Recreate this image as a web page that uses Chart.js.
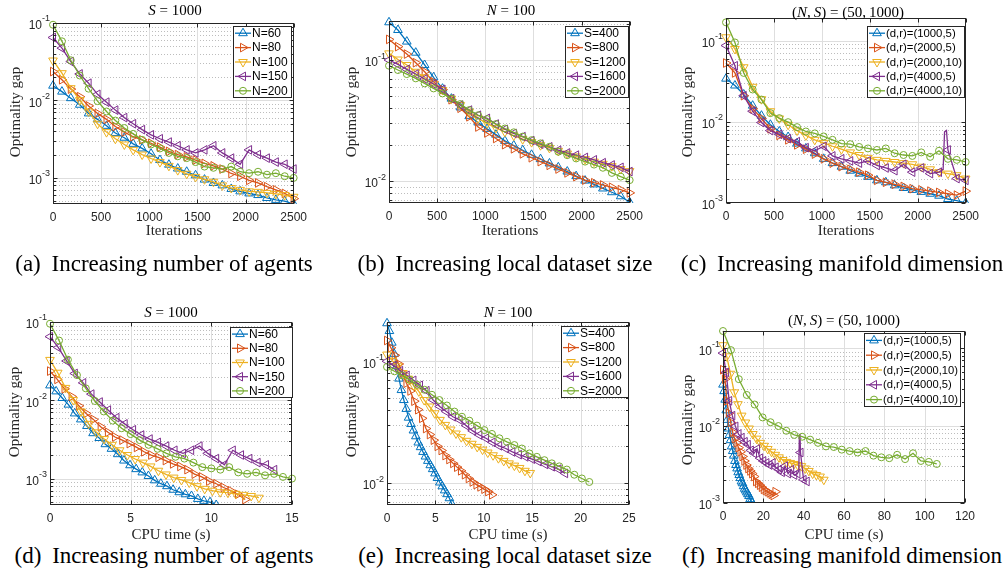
<!DOCTYPE html>
<html><head><meta charset="utf-8">
<script src="https://cdn.jsdelivr.net/npm/chart.js@4.4.1/dist/chart.umd.min.js"></script>
<style>
html,body{margin:0;padding:0;background:#fff}
body{width:1008px;height:577px;position:relative;overflow:hidden;font-family:'Liberation Serif','Times New Roman',serif;color:#000}
canvas{position:absolute}
.lbl{position:absolute;white-space:nowrap;transform:translate(-50%,-50%);line-height:1}
.ttl{font-size:15px;color:#000}
.ax{font-size:15px;color:#262626}
.rot{transform:translate(-50%,-50%) rotate(-90deg)}
.cap{font-size:23px;color:#000}
</style></head><body>
<script>
// ---------- data ----------
const iterMarks = [0,93,185,278,370,463,556,648,741,833,926,1019,1111,1204,1296,1389,1481,1574,1667,1759,1852,1944,2037,2130,2222,2315,2407,2500];

// (a)/(d): S = 1000, varying N
const a60  = [0.0155,0.013,0.0107,0.0088,0.0068,0.0057,0.0047,0.0038,0.0033,0.00275,0.0024,0.00205,0.0017,0.00148,0.00132,0.0012,0.00108,0.00095,0.00086,0.0008,0.00072,0.00067,0.00063,0.0006,0.00055,0.00052,0.0005,0.00046];
const a80  = [0.0236,0.0185,0.014,0.0112,0.0085,0.0068,0.0057,0.0046,0.0039,0.0034,0.0031,0.0028,0.0025,0.0022,0.002,0.00187,0.0017,0.00154,0.00143,0.0013,0.00114,0.00105,0.00093,0.00086,0.00077,0.0007,0.00063,0.00054];
const a100 = [0.0328,0.0225,0.0144,0.0101,0.0072,0.005,0.0039,0.0032,0.0027,0.0023,0.002,0.00178,0.0016,0.00143,0.00126,0.00113,0.00103,0.00096,0.00089,0.0008,0.00074,0.0007,0.00067,0.00066,0.00064,0.00062,0.0006,0.00057];
const a150 = [0.065,0.0474,0.0318,0.022,0.0167,0.012,0.0095,0.0075,0.006,0.005,0.0042,0.0036,0.0032,0.0029,0.0026,0.0023,0.0021,0.0023,0.0026,0.0021,0.0018,0.0015,0.0023,0.002,0.0018,0.0016,0.0015,0.0013];
const a200 = [0.095,0.058,0.033,0.021,0.0142,0.0098,0.0072,0.0055,0.0044,0.0037,0.0031,0.0027,0.0024,0.0021,0.0019,0.0018,0.0016,0.0014,0.00135,0.0013,0.0014,0.0012,0.00115,0.0012,0.0011,0.00115,0.00105,0.001];

// (b)/(e): N = 100, varying S
const b400  = [0.205,0.177,0.142,0.115,0.091,0.072,0.058,0.048,0.0406,0.0344,0.0305,0.027,0.0242,0.0215,0.0197,0.018,0.0165,0.0152,0.014,0.013,0.012,0.011,0.0101,0.0094,0.0087,0.0081,0.0075,0.0067];
const b800  = [0.148,0.129,0.112,0.095,0.08,0.066,0.057,0.047,0.04,0.034,0.028,0.025,0.0225,0.02,0.0185,0.0168,0.0156,0.0145,0.0135,0.0126,0.0117,0.0109,0.0102,0.0097,0.0093,0.0089,0.0085,0.008];
const b1200 = [0.1135,0.101,0.091,0.08,0.072,0.0634,0.0565,0.048,0.0425,0.0374,0.033,0.03,0.0275,0.0255,0.0238,0.0222,0.021,0.0198,0.0188,0.0178,0.0169,0.016,0.0152,0.0145,0.0139,0.0133,0.0126,0.0121];
const b1600 = [0.1,0.092,0.0837,0.0766,0.0697,0.0634,0.0573,0.048,0.0425,0.0386,0.035,0.033,0.0296,0.0268,0.0248,0.0233,0.0216,0.0202,0.0192,0.018,0.0171,0.0164,0.0157,0.015,0.0142,0.0136,0.013,0.012];
const b2000 = [0.0898,0.0827,0.0766,0.0706,0.0642,0.0583,0.053,0.048,0.0433,0.0386,0.035,0.0325,0.0296,0.0272,0.0253,0.0233,0.0218,0.0205,0.0192,0.0175,0.0164,0.0154,0.0145,0.0137,0.0129,0.0117,0.0109,0.0102];

// (c)/(f): (N,S) = (50,1000), varying (d,r)
const c1000_5  = [0.034,0.028,0.0217,0.0158,0.0119,0.0092,0.0076,0.0065,0.0054,0.0047,0.0041,0.0035,0.0031,0.0028,0.0025,0.0023,0.0021,0.0019,0.0018,0.00165,0.00153,0.00145,0.00137,0.0013,0.00123,0.00112,0.00107,0.001];
const c2000_5  = [0.053,0.04,0.021,0.0145,0.011,0.0082,0.0068,0.006,0.0052,0.0046,0.004,0.0035,0.0031,0.0028,0.0026,0.0024,0.0022,0.0019,0.0018,0.0017,0.0016,0.0015,0.00145,0.0014,0.00135,0.0013,0.00125,0.0014];
const c2000_10 = [0.11,0.079,0.047,0.027,0.019,0.0135,0.011,0.0092,0.0078,0.0068,0.006,0.0055,0.005,0.0046,0.0042,0.0039,0.0036,0.0034,0.0033,0.0032,0.0031,0.003,0.0028,0.0026,0.0024,0.0023,0.0022,0.002];
const c4000_5  = [0.087,0.049,0.021,0.0135,0.0098,0.0078,0.007,0.0062,0.0057,0.0048,0.0044,0.005,0.0038,0.0035,0.0033,0.0031,0.0033,0.0029,0.0027,0.0025,0.003,0.0024,0.0027,0.0023,0.0024,0.0045,0.002,0.0019];
const c4000_10 = [0.168,0.095,0.04,0.025,0.0188,0.0128,0.0111,0.0099,0.0086,0.0076,0.0072,0.0066,0.006,0.0054,0.0053,0.0049,0.0047,0.0045,0.0047,0.0041,0.0039,0.0038,0.0042,0.0037,0.0044,0.0035,0.0034,0.0032];
// spike of the (4000,5) run between markers (line only)
const spikeIter = [2265,2280,2300];
const spikeSec  = [37.6,37.85,38.18];
const spikeVal  = [0.0026,0.0075,0.0078];

// CPU time (s) at the marker iterations
const tN60  = [0,0.38,0.76,1.14,1.53,1.91,2.29,2.67,3.05,3.43,3.81,4.20,4.58,4.96,5.34,5.72,6.10,6.49,6.87,7.25,7.63,8.01,8.39,8.77,9.16,9.54,9.92,10.3];
const tN80  = [0,0.45,0.90,1.34,1.79,2.24,2.69,3.14,3.59,4.03,4.48,4.93,5.38,5.83,6.27,6.72,7.17,7.62,8.07,8.51,8.96,9.41,9.86,10.31,10.76,11.20,11.65,12.1];
const tN100 = [0,0.48,0.96,1.44,1.92,2.40,2.88,3.36,3.84,4.32,4.80,5.28,5.76,6.24,6.72,7.19,7.67,8.15,8.63,9.11,9.59,10.07,10.55,11.03,11.51,11.99,12.47,12.95];
const tN150 = [0,0.51,1.03,1.54,2.06,2.57,3.09,3.60,4.12,4.63,5.15,5.66,6.18,6.69,7.21,7.72,8.24,8.75,9.27,9.78,10.30,10.81,11.33,11.84,12.36,12.87,13.39,13.9];
const tN200 = [0,0.56,1.11,1.67,2.22,2.78,3.33,3.89,4.44,5.00,5.56,6.11,6.67,7.22,7.78,8.33,8.89,9.44,10.00,10.56,11.11,11.67,12.22,12.78,13.33,13.89,14.44,15];
const tS400  = [0,0.25,0.50,0.74,0.99,1.24,1.49,1.74,1.99,2.23,2.48,2.73,2.98,3.23,3.47,3.72,3.97,4.22,4.47,4.72,4.96,5.21,5.46,5.71,5.96,6.20,6.45,6.7];
const tS800  = [0,0.40,0.80,1.21,1.61,2.01,2.41,2.81,3.21,3.62,4.02,4.42,4.82,5.22,5.63,6.03,6.43,6.83,7.23,7.64,8.04,8.44,8.84,9.24,9.64,10.05,10.45,10.85];
const tS1200 = [0,0.55,1.10,1.64,2.19,2.74,3.29,3.84,4.39,4.93,5.48,6.03,6.58,7.13,7.67,8.22,8.77,9.32,9.87,10.41,10.96,11.51,12.06,12.61,13.16,13.70,14.25,14.8];
const tS1600 = [0,0.68,1.36,2.04,2.73,3.41,4.09,4.77,5.45,6.13,6.81,7.50,8.18,8.86,9.54,10.22,10.90,11.59,12.27,12.95,13.63,14.31,14.99,15.67,16.36,17.04,17.72,18.4];
const tS2000 = [0,0.77,1.55,2.32,3.10,3.87,4.64,5.42,6.19,6.97,7.74,8.51,9.29,10.06,10.84,11.61,12.39,13.16,13.93,14.71,15.48,16.26,17.03,17.80,18.58,19.35,20.13,20.9];
const tD1000_5  = [0,0.54,1.07,1.61,2.15,2.69,3.22,3.76,4.30,4.83,5.37,5.91,6.44,6.98,7.52,8.06,8.59,9.13,9.67,10.20,10.74,11.28,11.81,12.35,12.89,13.43,13.96,14.5];
const tD2000_5  = [0,0.96,1.93,2.89,3.85,4.81,5.78,6.74,7.70,8.67,9.63,10.59,11.56,12.52,13.48,14.44,15.41,16.37,17.33,18.30,19.26,20.22,21.19,22.15,23.11,24.07,25.04,26];
const tD2000_10 = [0,1.85,3.70,5.56,7.41,9.26,11.11,12.96,14.81,16.67,18.52,20.37,22.22,24.07,25.93,27.78,29.63,31.48,33.33,35.19,37.04,38.89,40.74,42.59,44.44,46.30,48.15,50];
const tD4000_5  = [0,1.54,3.07,4.61,6.15,7.69,9.22,10.76,12.30,13.83,15.37,16.91,18.44,19.98,21.52,23.06,24.59,26.13,27.67,29.20,30.74,32.28,33.81,35.35,36.89,38.43,39.96,41.5];
const tD4000_10 = [0,3.93,7.85,11.78,15.70,19.63,23.56,27.48,31.41,35.33,39.26,43.19,47.11,51.04,54.96,58.89,62.81,66.74,70.67,74.59,78.52,82.44,86.37,90.30,94.22,98.15,102.07,106];

const labelsN  = ['N=60','N=80','N=100','N=150','N=200'];
const labelsS  = ['S=400','S=800','S=1200','S=1600','S=2000'];
const labelsDR = ['(d,r)=(1000,5)','(d,r)=(2000,5)','(d,r)=(2000,10)','(d,r)=(4000,5)','(d,r)=(4000,10)'];

const xTicksIter = [0,500,1000,1500,2000,2500];
const xTicksD = [0,5,10,15];
const xTicksE = [0,5,10,15,20,25];
const xTicksF = [0,20,40,60,80,100,120];

// ---------- styles ----------
const COLORS = ['#0072BD','#D95319','#EDB120','#7E2F8E','#77AC30'];
const MARKERS = [
  {s:'triangle', r:0,   rad:5},
  {s:'triangle', r:90,  rad:5},
  {s:'triangle', r:180, rad:5},
  {s:'triangle', r:270, rad:5},
  {s:'circle',   r:0,   rad:3.5}
];

const panels = [
  {rect:[53,23,295,204],  xmax:2500, xticks:xTicksIter, ymin:4.6e-4, ymax:0.1,   legend:[233,26,292,98],  labels:labelsN,
   xs:[iterMarks,iterMarks,iterMarks,iterMarks,iterMarks], ys:[a60,a80,a100,a150,a200]},
  {rect:[389,21,631,203], xmax:2500, xticks:xTicksIter, ymin:6.6e-3, ymax:0.21,  legend:[565,26,629,98],  labels:labelsS,
   xs:[iterMarks,iterMarks,iterMarks,iterMarks,iterMarks], ys:[b400,b800,b1200,b1600,b2000]},
  {rect:[726,18,967,203], xmax:2500, xticks:xTicksIter, ymin:1e-3,   ymax:0.19,  legend:[867,26,965,98],  labels:labelsDR,
   xs:[iterMarks,iterMarks,iterMarks,iterMarks,iterMarks], ys:[c1000_5,c2000_5,c2000_10,c4000_5,c4000_10],
   extra:{series:3, x:spikeIter, y:spikeVal}},
  {rect:[50,322,292,505], xmax:15,  xticks:xTicksD, ymin:4.6e-4, ymax:0.1,   legend:[230,327,293,398], labels:labelsN,
   xs:[tN60,tN80,tN100,tN150,tN200], ys:[a60,a80,a100,a150,a200]},
  {rect:[387,322,629,505], xmax:25, xticks:xTicksE, ymin:6.6e-3, ymax:0.21,  legend:[561,326,629,398], labels:labelsS,
   xs:[tS400,tS800,tS1200,tS1600,tS2000], ys:[b400,b800,b1200,b1600,b2000]},
  {rect:[723,331,965,503], xmax:120, xticks:xTicksF, ymin:1e-3,  ymax:0.168, legend:[864,333,961,407], labels:labelsDR,
   xs:[tD1000_5,tD2000_5,tD2000_10,tD4000_5,tD4000_10], ys:[c1000_5,c2000_5,c2000_10,c4000_5,c4000_10],
   extra:{series:3, x:spikeSec, y:spikeVal}}
];

const texts = [
  {c:'ttl', x:175, y:10,  h:'<i>S</i> = 1000'},
  {c:'ttl', x:511, y:10,  h:'<i>N</i> = 100'},
  {c:'ttl', x:848, y:12,  h:'(<i>N</i>,&thinsp;<i>S</i>) = (50,&thinsp;1000)'},
  {c:'ttl', x:171, y:312, h:'<i>S</i> = 1000'},
  {c:'ttl', x:508, y:312, h:'<i>N</i> = 100'},
  {c:'ttl', x:844, y:320, h:'(<i>N</i>,&thinsp;<i>S</i>) = (50,&thinsp;1000)'},
  {c:'ax', x:174, y:230, h:'Iterations'},
  {c:'ax', x:510, y:230, h:'Iterations'},
  {c:'ax', x:846, y:230, h:'Iterations'},
  {c:'ax', x:171, y:534, h:'CPU time (s)'},
  {c:'ax', x:508, y:534, h:'CPU time (s)'},
  {c:'ax', x:844, y:534, h:'CPU time (s)'},
  {c:'ax rot', x:15,  y:112, h:'Optimality gap'},
  {c:'ax rot', x:351, y:112, h:'Optimality gap'},
  {c:'ax rot', x:687, y:112, h:'Optimality gap'},
  {c:'ax rot', x:14,  y:412, h:'Optimality gap'},
  {c:'ax rot', x:351, y:412, h:'Optimality gap'},
  {c:'ax rot', x:687, y:420, h:'Optimality gap'},
  {c:'cap', x:164, y:263, h:'<span style="margin-right:.22em">(a)</span> Increasing number of agents'},
  {c:'cap', x:505, y:263, h:'<span style="margin-right:.22em">(b)</span> Increasing local dataset size'},
  {c:'cap', x:842, y:263, h:'<span style="margin-right:.22em">(c)</span> Increasing manifold dimension'},
  {c:'cap', x:164, y:555, h:'<span style="margin-right:.22em">(d)</span> Increasing number of agents'},
  {c:'cap', x:505, y:555, h:'<span style="margin-right:.22em">(e)</span> Increasing local dataset size'},
  {c:'cap', x:842, y:555, h:'<span style="margin-right:.22em">(f)</span> Increasing manifold dimension'}
];

// ---------- helpers ----------
const ML = 40, MT = 12, MR = 18, MB = 28;
const AX = '#262626';

function drawMarker(ctx, mk, x, y){
  ctx.beginPath();
  if (mk.s === 'circle') { ctx.arc(x, y, mk.rad, 0, Math.PI*2); }
  else {
    let rad = mk.r*Math.PI/180;
    for (let j=0;j<3;j++){
      const px = x + Math.sin(rad)*mk.rad, py = y - Math.cos(rad)*mk.rad;
      if (j) ctx.lineTo(px,py); else ctx.moveTo(px,py);
      rad += 2*Math.PI/3;
    }
    ctx.closePath();
  }
  ctx.stroke();
}

function buildData(xs, ys, ex){
  const pts = xs.map((x,i)=>({x:x, y:ys[i], m:true}));
  if (ex) ex.x.forEach((x,i)=>pts.push({x:x, y:ex.y[i], m:false}));
  pts.sort((p,q)=>p.x-q.x);
  return pts;
}

function decades(p){
  return {k0:Math.floor(Math.log10(p.ymin)+1e-9), k1:Math.ceil(Math.log10(p.ymax)-1e-9)};
}

function matlabPlugin(p, org){
  return {
    id:'matlabStyle',
    beforeDatasetsDraw(chart){
      const ctx = chart.ctx, a = chart.chartArea, x = chart.scales.x, y = chart.scales.y;
      const {k0,k1} = decades(p);
      ctx.save();
      ctx.beginPath(); ctx.rect(a.left,a.top,a.right-a.left,a.bottom-a.top); ctx.clip();
      ctx.lineWidth = 1;
      ctx.strokeStyle = '#bdbdbd'; ctx.setLineDash([1,2]);
      for (let k=k0;k<=k1;k++) for (let m=2;m<=9;m++){
        const v = m*Math.pow(10,k);
        if (v<=p.ymin || v>=p.ymax) continue;
        const yy = Math.round(y.getPixelForValue(v))+0.5;
        ctx.beginPath(); ctx.moveTo(a.left,yy); ctx.lineTo(a.right,yy); ctx.stroke();
      }
      ctx.setLineDash([]);
      ctx.strokeStyle = '#dedede';
      for (let k=k0;k<=k1;k++){
        const v = Math.pow(10,k);
        if (v<p.ymin*0.999 || v>p.ymax*1.001) continue;
        const yy = Math.round(y.getPixelForValue(v))+0.5;
        ctx.beginPath(); ctx.moveTo(a.left,yy); ctx.lineTo(a.right,yy); ctx.stroke();
      }
      for (const t of p.xticks){
        if (t<=0 || t>=p.xmax) continue;
        const xx = Math.round(x.getPixelForValue(t))+0.5;
        ctx.beginPath(); ctx.moveTo(xx,a.top); ctx.lineTo(xx,a.bottom); ctx.stroke();
      }
      ctx.restore();
    },
    afterDatasetsDraw(chart){
      const ctx = chart.ctx, a = chart.chartArea, x = chart.scales.x, y = chart.scales.y;
      const {k0,k1} = decades(p);
      ctx.save();
      ctx.strokeStyle = AX; ctx.lineWidth = 1;
      const L = Math.round(a.left)+0.5, R = Math.round(a.right)-0.5, T = Math.round(a.top)+0.5, B = Math.round(a.bottom)-0.5;
      ctx.strokeRect(L,T,R-L,B-T);
      ctx.beginPath();
      for (const t of p.xticks){
        const xx = Math.round(x.getPixelForValue(t))+0.5;
        ctx.moveTo(xx,B); ctx.lineTo(xx,B-4);
        ctx.moveTo(xx,T); ctx.lineTo(xx,T+4);
      }
      for (let k=k0;k<=k1;k++) for (let m=1;m<=9;m++){
        const v = m*Math.pow(10,k);
        if (v<p.ymin*0.999 || v>p.ymax*1.001) continue;
        const yy = Math.round(y.getPixelForValue(v))+0.5;
        const len = m===1 ? 4 : 2.5;
        ctx.moveTo(L,yy); ctx.lineTo(L+len,yy);
        ctx.moveTo(R,yy); ctx.lineTo(R-len,yy);
      }
      ctx.stroke();
      // y tick labels 10^k
      ctx.fillStyle = AX; ctx.textBaseline = 'middle';
      for (let k=k0;k<=k1;k++){
        const v = Math.pow(10,k);
        if (v<p.ymin*0.999 || v>p.ymax*1.001) continue;
        const yy = y.getPixelForValue(v);
        const sup = String(k);
        ctx.font = '9px "Liberation Sans", Arial, sans-serif';
        const sw = ctx.measureText(sup).width;
        const xr = a.left - 3;
        ctx.textAlign = 'left';
        ctx.fillText(sup, xr - sw, yy - 4);
        ctx.font = '12px "Liberation Sans", Arial, sans-serif';
        ctx.textAlign = 'right';
        ctx.fillText('10', xr - sw, yy + 3);
      }
      ctx.restore();
    },
    afterDraw(chart){
      const ctx = chart.ctx;
      const [l0,t0,l1,t1] = p.legend;
      const bx = l0 - org.x, by = t0 - org.y, bw = l1 - l0, bh = t1 - t0;
      ctx.save();
      ctx.fillStyle = '#fff'; ctx.fillRect(bx,by,bw,bh);
      ctx.strokeStyle = AX; ctx.lineWidth = 1;
      ctx.strokeRect(bx+0.5,by+0.5,bw-1,bh-1);
      let fs = 12;
      ctx.font = fs+'px "Liberation Sans", Arial, sans-serif';
      const maxW = Math.max(...p.labels.map(s=>ctx.measureText(s).width));
      if (maxW > bw-22) fs = 12*(bw-22)/maxW;
      ctx.font = fs.toFixed(2)+'px "Liberation Sans", Arial, sans-serif';
      const rowH = bh/p.labels.length;
      p.labels.forEach((lab,i)=>{
        const cy = by + rowH*(i+0.5);
        ctx.strokeStyle = COLORS[i]; ctx.lineWidth = 1.3;
        ctx.beginPath(); ctx.moveTo(bx+2,cy); ctx.lineTo(bx+18,cy); ctx.stroke();
        ctx.lineWidth = 1;
        drawMarker(ctx, MARKERS[i], bx+10, cy);
        ctx.fillStyle = '#000'; ctx.textAlign = 'left'; ctx.textBaseline = 'middle';
        ctx.fillText(lab, bx+19, cy+0.5);
      });
      ctx.restore();
    }
  };
}

// ---------- build charts ----------
panels.forEach((p)=>{
  const [L,T,R,B] = p.rect;
  const cw = R-L+ML+MR, ch = B-T+MT+MB;
  const org = {x:L-ML, y:T-MT};
  const cv = document.createElement('canvas');
  cv.width = cw; cv.height = ch;
  cv.style.left = org.x+'px'; cv.style.top = org.y+'px';
  cv.style.width = cw+'px'; cv.style.height = ch+'px';
  document.body.appendChild(cv);
  const datasets = p.labels.map((lab,i)=>{
    const mk = MARKERS[i];
    const ex = (p.extra && p.extra.series===i) ? p.extra : null;
    return {
      label: lab,
      data: buildData(p.xs[i], p.ys[i], ex),
      borderColor: COLORS[i],
      backgroundColor: 'rgba(0,0,0,0)',
      borderWidth: 1.3,
      pointStyle: mk.s,
      pointRotation: mk.r,
      pointRadius: (c)=> (c.raw && c.raw.m===false) ? 0 : mk.rad,
      pointBorderColor: COLORS[i],
      pointBackgroundColor: 'rgba(0,0,0,0)',
      pointBorderWidth: 1,
      tension: 0,
      fill: false,
      order: -i,
      clip: {left:8, top:8, right:6, bottom:0}
    };
  });
  new Chart(cv, {
    type:'line',
    data:{datasets},
    options:{
      responsive:false, animation:false, devicePixelRatio:1, events:[],
      layout:{padding:{left:0, top:MT, right:MR, bottom:0}, autoPadding:false},
      plugins:{legend:{display:false}, tooltip:{enabled:false}, title:{display:false}},
      scales:{
        x:{type:'linear', min:0, max:p.xmax,
           afterBuildTicks:(s)=>{ s.ticks = p.xticks.map(v=>({value:v})); },
           ticks:{autoSkip:false, maxRotation:0, minRotation:0, padding:6, color:AX,
                  font:{family:'"Liberation Sans", Arial, sans-serif', size:12}, callback:(v)=>String(v)},
           grid:{display:false, drawTicks:false}, border:{display:false},
           afterFit:(s)=>{ s.height = MB; }},
        y:{type:'logarithmic', min:p.ymin, max:p.ymax,
           ticks:{display:false}, grid:{display:false, drawTicks:false}, border:{display:false},
           afterFit:(s)=>{ s.width = ML; }}
      }
    },
    plugins:[matlabPlugin(p, org)]
  });
});

texts.forEach(t=>{
  const d = document.createElement('div');
  d.className = 'lbl '+t.c;
  d.style.left = t.x+'px'; d.style.top = t.y+'px';
  d.innerHTML = t.h;
  document.body.appendChild(d);
});
</script>
</body></html>
